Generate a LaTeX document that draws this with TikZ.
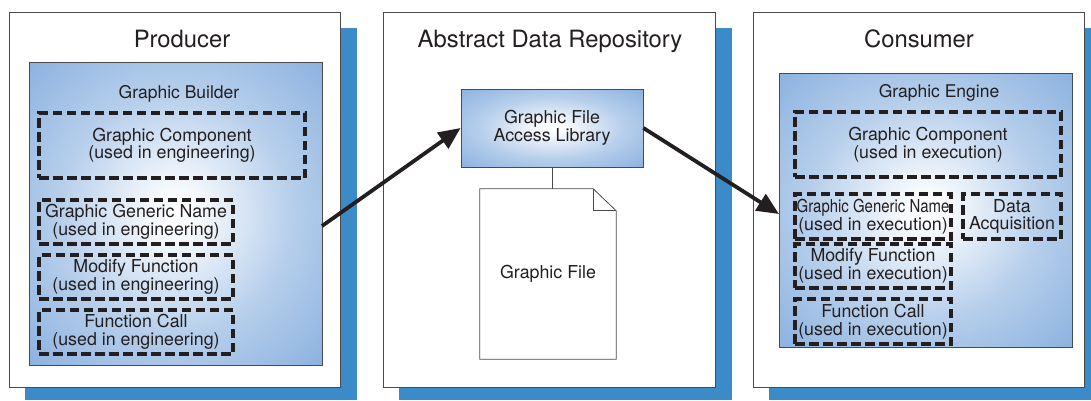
\documentclass[tikz,border=0pt]{standalone}
\usepackage{fontspec}
\setmainfont{TeX Gyre Heros}
\usetikzlibrary{arrows.meta}

\definecolor{shadowblue}{HTML}{3A8BC8}
\definecolor{gblue}{HTML}{7AA6DB}
\definecolor{gdeep}{HTML}{719ED6}
\definecolor{ink}{HTML}{231F20}
\definecolor{rim}{HTML}{4A4A4A}
\colorlet{gsoft}{white!94!gblue}
\colorlet{gmid}{white!45!gblue}

% white glow in the middle, fading to blue at the edges
\pgfdeclareradialshading{glow}{\pgfpoint{0bp}{0bp}}{%
  color(0bp)=(white); color(4bp)=(gsoft); color(20bp)=(gmid);
  color(42bp)=(gblue); color(72bp)=(gdeep)}

\tikzset{
  panel/.style={draw=rim, line width=0.8pt, fill=white, inner sep=0pt},
  backing/.style={fill=shadowblue},
  bluebox/.style={draw=rim, line width=0.8pt, shading=glow, inner sep=0pt},
  dashbox/.style={draw=ink, line width=3.3pt, dash pattern=on 9.5pt off 4.5pt,
    inner sep=0pt, align=center, text=ink, font=\fontsize{17.8}{17.5}\selectfont},
  paneltitle/.style={anchor=base, text=ink, font=\fontsize{23.8}{26}\selectfont},
  boxtitle/.style={anchor=base, text=ink, font=\fontsize{17.5}{18}\selectfont},
  docline/.style={draw=rim, line width=0.8pt, fill=white},
  flow/.style={draw=ink, line width=3.8pt, -{Triangle[length=22pt,width=19pt]}},
}

\begin{document}
\begin{tikzpicture}[x=1pt, y=-1pt]
\useasboundingbox (0,0) rectangle (1091,400);

% offset blue backings behind the three panels
\fill[backing] (25,28) rectangle (357,400);
\fill[backing] (399,28) rectangle (732,400);
\fill[backing] (769,28) rectangle (1091,400);

% panels
\node[panel, minimum width=331pt, minimum height=375pt] (ppanel) at (174.5,199.5) {};
\node[panel, minimum width=332pt, minimum height=375pt] (mpanel) at (549,199.5) {};
\node[panel, minimum width=331pt, minimum height=375pt] (cpanel) at (918.5,199.5) {};

\node[paneltitle] (ptitle) at (182,47) {Producer};
\node[paneltitle] (mtitle) at (550,47) {Abstract Data Repository};
\node[paneltitle] (ctitle) at (919,47) {Consumer};

% producer: graphic builder
\node[bluebox, minimum width=293pt, minimum height=303pt] (builder) at (175.5,213.5) {};
\node[boxtitle] (buildertitle) at (179,98) {Graphic Builder};
\node[dashbox, minimum width=266pt, minimum height=65pt] (pcomp) at (172,145.5)
  {Graphic Component\\(used in engineering)};
\node[dashbox, minimum width=194pt, minimum height=44pt] (pgname) at (136,222)
  {Graphic Generic Name\\(used in engineering)};
\node[dashbox, minimum width=194pt, minimum height=44pt] (pmod) at (136,277)
  {Modify Function\\(used in engineering)};
\node[dashbox, minimum width=194pt, minimum height=44pt] (pcall) at (136,332)
  {Function Call\\(used in engineering)};

% repository: access library and the file it reads
\node[bluebox, minimum width=182pt, minimum height=78pt, align=center, text=ink,
  font=\fontsize{17.8}{17.5}\selectfont] (lib) at (552,128)
  {Graphic File\\Access Library};
\node[minimum width=136pt, minimum height=170pt, inner sep=0pt] (doc) at (548,274) {};
\path[docline] (doc.north west) -- ([xshift=-23pt]doc.north east)
  -- ([yshift=-22pt]doc.north east) -- (doc.south east) -- (doc.south west) -- cycle;
\draw[draw=rim, line width=0.8pt] ([xshift=-23pt]doc.north east)
  -- ([xshift=-23pt,yshift=-22pt]doc.north east) -- ([yshift=-22pt]doc.north east);
\node[text=ink, font=\fontsize{17.8}{18}\selectfont] (doclabel) at (doc.center) {Graphic File};
\draw[draw=rim, line width=0.8pt] (lib.south) -- (lib.south |- doc.north);

% consumer: graphic engine
\node[bluebox, minimum width=293pt, minimum height=274pt] (engine) at (925.5,210) {};
\node[boxtitle] (enginetitle) at (939,97) {Graphic Engine};
\node[dashbox, minimum width=266pt, minimum height=65pt] (ccomp) at (928,144.5)
  {Graphic Component\\(used in execution)};
\node[dashbox, minimum width=156pt, minimum height=45pt] (cgname) at (873,216.5)
  {\scalebox{0.84}[1]{Graphic Generic Name}\\(used in execution)};
\node[dashbox, minimum width=98pt, minimum height=45pt] (cdaq) at (1012,216.5)
  {Data\\Acquisition};
\node[dashbox, minimum width=156pt, minimum height=44pt] (cmod) at (873,266)
  {Modify Function\\(used in execution)};
\node[dashbox, minimum width=156pt, minimum height=45pt] (ccall) at (873,321.5)
  {Function Call\\(used in execution)};

% data flow
\coordinate (out) at (322,226);
\draw[flow] (out) -- (lib.west);
\coordinate (in) at (779,214);
\draw[flow] (lib.east) -- (in);
\end{tikzpicture}
\end{document}
